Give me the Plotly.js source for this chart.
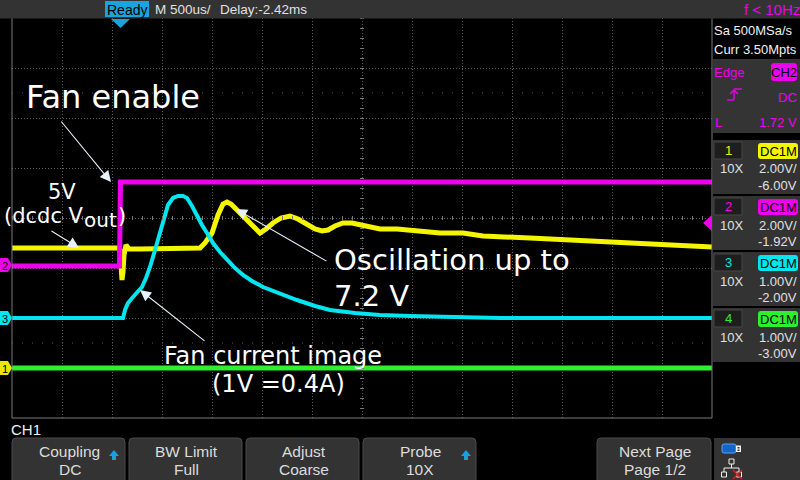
<!DOCTYPE html>
<html><head><meta charset="utf-8">
<script src="https://cdn.plot.ly/plotly-3.0.1.min.js"></script>
<style>html,body{margin:0;padding:0;background:#000;}#chart{width:800px;height:480px;}</style>
</head><body><div id="chart"></div>
<script>
// ---------- DATA (time in ms relative to trigger, values in volts) ----------
const ch1Time  = [-1.08,-0.01,0.00,0.01,0.02,0.03,0.04,0.06,0.09,0.20,0.80,0.85,0.92,0.98,1.03,1.07,1.11,1.15,1.21,1.27,1.34,1.40,1.46,1.53,1.61,1.70,1.78,1.87,1.95,2.02,2.08,2.15,2.23,2.32,2.40,2.47,2.60,2.77,3.00,3.20,3.43,3.63,4.10,4.77,5.27,5.92];
const ch1Volts = [4.80,4.80,4.72,4.24,3.52,3.84,4.52,4.92,4.76,4.76,4.80,5.00,5.40,6.12,6.56,6.64,6.56,6.40,6.16,5.92,5.60,5.40,5.56,5.80,6.00,6.08,5.96,5.72,5.56,5.48,5.52,5.68,5.80,5.80,5.72,5.64,5.56,5.56,5.48,5.40,5.40,5.28,5.20,5.08,5.00,4.84];

const ch2Time  = [-1.08,-0.005,0.005,5.92];
const ch2Volts = [0.00,0.00,3.36,3.36];

const ch3Time  = [-1.08,0.02,0.03,0.05,0.08,0.13,0.18,0.22,0.26,0.30,0.35,0.40,0.44,0.48,0.53,0.58,0.63,0.67,0.72,0.77,0.82,0.87,0.93,1.00,1.07,1.15,1.23,1.32,1.43,1.60,1.77,1.95,2.10,2.35,2.60,2.90,3.20,3.80,5.92];
const ch3Volts = [0.00,0.00,0.00,0.16,0.30,0.42,0.52,0.62,0.80,1.02,1.36,1.70,2.00,2.26,2.40,2.44,2.44,2.40,2.24,2.04,1.86,1.70,1.50,1.32,1.16,1.00,0.86,0.74,0.62,0.48,0.36,0.24,0.16,0.10,0.06,0.04,0.02,0.00,0.00];

const ch4Time  = [-1.08,5.92];
const ch4Volts = [0.00,0.00];

// scope settings (from the channel panel)
const chNames   = ['1','2','3','4'];
const chScale   = [2.00,2.00,1.00,1.00];     // V/div
const chOffset  = [-6.00,-1.92,-2.00,-3.00]; // V
const chColors  = ['#f5f500','#ee00ee','#00e6f0','#2ef02e'];
const timeCenter = 2.42, timePerDiv = 0.5;   // ms

// ---------- LAYOUT HELPERS ----------
const L=12,R=712,T=18,B=418;
const px=x=>(x-L)/(R-L), py=y=>(B-y)/(B-T);
const UI='"Liberation Sans", Arial, sans-serif';
const AN='"DejaVu Sans", sans-serif';
const shapes=[], ann=[];
function rect(x0,y0,x1,y1,fill,lc,lw){shapes.push({type:'rect',xref:'paper',yref:'paper',x0:px(x0),x1:px(x1),y0:py(y1),y1:py(y0),fillcolor:fill,line:{color:lc||fill,width:lw||0}});}
function poly(pts,fill){shapes.push({type:'path',xref:'paper',yref:'paper',path:'M'+pts.map(p=>px(p[0])+','+py(p[1])).join(' L')+' Z',fillcolor:fill,line:{width:0}});}
function rrect(x0,y0,x1,y1,r,fill,stroke){
  const P=(x,y)=>px(x)+','+py(y);
  const d=`M${P(x0+r,y0)} L${P(x1-r,y0)} Q${P(x1,y0)} ${P(x1,y0+r)} L${P(x1,y1-r)} Q${P(x1,y1)} ${P(x1-r,y1)} L${P(x0+r,y1)} Q${P(x0,y1)} ${P(x0,y1-r)} L${P(x0,y0+r)} Q${P(x0,y0)} ${P(x0+r,y0)} Z`;
  shapes.push({type:'path',xref:'paper',yref:'paper',path:d,fillcolor:fill,line:{color:stroke||fill,width:stroke?1:0}});
}
function seg(x0,y0,x1,y1,color,w,dash){shapes.push({type:'line',xref:'paper',yref:'paper',x0:px(x0),x1:px(x1),y0:py(y0),y1:py(y1),line:{color:color,width:w,dash:dash||'solid'}});}
function txt(x,y,t,size,color,anchor,family){ann.push({xref:'paper',yref:'paper',x:px(x),y:py(y),text:t,showarrow:false,xanchor:anchor||'left',yanchor:'middle',borderpad:0,borderwidth:0,font:{family:family||UI,size:size,color:color}});}
function arrow(tx,ty,sx,sy){ann.push({xref:'paper',yref:'paper',x:px(tx),y:py(ty),ax:sx-tx,ay:sy-ty,text:'',showarrow:true,arrowhead:2,arrowsize:2,arrowwidth:1.1,arrowcolor:'#e6f2f8'});}

// ---------- GRID DECORATION ----------
seg(L,218,R,218,'#777',4,'1px,9px');
seg(362,T,362,B,'#777',4,'1px,9px');
seg(L,93,R,93,'#555',1,'1px,9px');
seg(L,343,R,343,'#555',1,'1px,9px');
rect(L,T-2,R,B,'rgba(0,0,0,0)','#7a7a7a',1);

// ---------- TOP BAR ----------
rect(0,0,800,18.5,'#333333');
rect(105,1,149,17,'#1aa3dc');
txt(127,9.5,'Ready',14,'#000','center');
txt(155,9.5,'M 500us/',13.5,'#e0e0e0','left');
txt(220,9.5,'Delay:-2.42ms',13.5,'#e0e0e0','left');
txt(800,9.5,'f &lt; 10Hz',15,'#ee00ee','right');
poly([[111,19],[130,19],[120.5,28]],'#1aa3dc');

// ---------- LEFT CHANNEL MARKERS ----------
[[2,265,'#ee00ee'],[3,318,'#00e6f0'],[1,368,'#e8e800']].forEach(m=>{
  poly([[0,m[1]-7],[8,m[1]-7],[12,m[1]],[8,m[1]+7],[0,m[1]+7]],m[2]);
  txt(4.5,m[1]+0.5,String(m[0]),11,'#000','center');
});
// trigger level marker
poly([[703,223],[712,215],[712,231]],'#ee00ee');

// ---------- RIGHT PANEL ----------
txt(714,30,'Sa 500MSa/s',13,'#f0f0f0','left');
txt(714,49,'Curr 3.50Mpts',13,'#f0f0f0','left');
rect(713,59,800,133,'#343434');
txt(714,72,'Edge',13,'#ee00ee','left');
rrect(771,63,797,81,3,'#ee00ee');
txt(784,72,'CH2',13,'#000','center');
seg(727,100,734,100,'#ee00ee',1.3); seg(734,100,734,89,'#ee00ee',1.3); seg(734,89,742,89,'#ee00ee',1.3);
seg(730,94,734,90,'#ee00ee',1.2); seg(738,94,734,90,'#ee00ee',1.2);
txt(797,97,'DC',13,'#ee00ee','right');
txt(715,122,'L',13,'#ee00ee','left');
txt(797,122,'1.72 V',13,'#ee00ee','right');
const boxTop=[140,196,252,308];
chNames.forEach((n,i)=>{
  const t=boxTop[i];
  rect(713,t,800,t+54,'#333333');
  rect(714,t+2,742,t+19,'#1e1e1e','#474747',1);
  txt(728,t+10.5,n,13,chColors[i],'center');
  rrect(758,t+3,798,t+19,3,chColors[i]);
  txt(778,t+11,'DC1M',13,'#000','center');
  txt(720,t+29,'10X',13,'#e0e0e0','left');
  txt(797,t+29,chScale[i].toFixed(2)+'V/',13,'#e0e0e0','right');
  txt(797,t+45,chOffset[i].toFixed(2)+'V',13,'#e0e0e0','right');
});

// ---------- BOTTOM MENU ----------
txt(11,429,'CH1',15,'#f0f0f0','left');
const btnX=[[12,125],[129,242],[246,359],[363,476],[597,711]];
const btnText=[['Coupling','DC'],['BW Limit','Full'],['Adjust','Coarse'],['Probe','10X'],['Next Page','Page 1/2']];
btnX.forEach((b,i)=>{
  rrect(b[0],438,b[1],484,4,'#333333','#4a4a4a');
  const c=(b[0]+b[1])/2+1;
  txt(c,451,btnText[i][0],15.5,'#dcdcdc','center');
  txt(c,469,btnText[i][1],15.5,'#dcdcdc','center');
});
[114,466].forEach(x=>{poly([[x-5,456],[x+5,456],[x,450]],'#1a9fe0'); rect(x-2,456,x+2,460,'#1a9fe0');});
rect(714,438,800,480,'#333333');
rrect(722,444,736,453,2,'#1565c8','#5aa0ff');
rect(736,445.5,741,452,'#f0f0f0'); rect(737.5,447,739.5,448.5,'#333'); rect(737.5,449.5,739.5,451,'#333');
rect(729,459,734,464,'#333','#f0f0f0',1);
seg(731.5,464,731.5,468,'#f0f0f0',1); seg(724,468,739,468,'#f0f0f0',1);
seg(724,468,724,472,'#f0f0f0',1); seg(739,468,739,472,'#f0f0f0',1);
rect(721.5,472,726.5,477,'#333','#f0f0f0',1); rect(736.5,472,741.5,477,'#333','#f0f0f0',1);
seg(733,470,742,479,'#e02020',1.5); seg(742,470,733,479,'#e02020',1.5);

// ---------- ANNOTATIONS ----------
txt(26,97,'Fan enable',32,'#ffffff','left',AN);
txt(62,192,'5V',21,'#ffffff','center',AN);
txt(4,216,'(dcdc V',21,'#ffffff','left',AN);
txt(84,220,'out',20,'#ffffff','left',AN);
txt(118,216,')',21,'#ffffff','left',AN);
txt(334,260,'Oscillation up to',29,'#ffffff','left',AN);
txt(334,296,'7.2 V',29,'#ffffff','left',AN);
txt(164,356,'Fan current image',24,'#ffffff','left',AN);
txt(212,384,'(1V =0.4A)',24,'#ffffff','left',AN);
arrow(111,182,60,120);
arrow(79,248,50,230);
arrow(236,209,328,262);
arrow(140,290,206,342);

// ---------- TRACES ----------
function yr(i){const c=-chOffset[i];return [c-4*chScale[i],c+4*chScale[i]];}
const tr=(x,y,ax,color,w)=>({x:x,y:y,yaxis:ax,type:'scatter',mode:'lines',line:{color:color,width:w},hoverinfo:'skip',showlegend:false});
const data=[
  tr(ch4Time,ch4Volts,'y4',chColors[3],5),
  tr(ch2Time,ch2Volts,'y2',chColors[1],5),
  tr(ch3Time,ch3Volts,'y3',chColors[2],4),
  tr(ch1Time,ch1Volts,'y',chColors[0],5)
];
const xr=[timeCenter-7*timePerDiv,timeCenter+7*timePerDiv];
const hid=(i)=>({range:yr(i),overlaying:'y',visible:false,fixedrange:true});
const layout={
  width:800,height:480,paper_bgcolor:'#000',plot_bgcolor:'#000',
  margin:{l:L,r:800-R,t:T,b:480-B},showlegend:false,hovermode:false,
  xaxis:{range:xr,tick0:xr[0],dtick:timePerDiv,showgrid:true,gridcolor:'#5e5e5e',griddash:'1px,2px',gridwidth:1,zeroline:false,showticklabels:false,ticks:'',showline:false},
  yaxis:{range:yr(0),tick0:yr(0)[0],dtick:chScale[0],showgrid:true,gridcolor:'#5e5e5e',griddash:'1px,2px',gridwidth:1,zeroline:false,showticklabels:false,ticks:'',showline:false},
  yaxis2:hid(1),yaxis3:hid(2),yaxis4:hid(3),
  shapes:shapes,annotations:ann
};
Plotly.newPlot('chart',data,layout,{staticPlot:true,displayModeBar:false});
</script></body></html>
